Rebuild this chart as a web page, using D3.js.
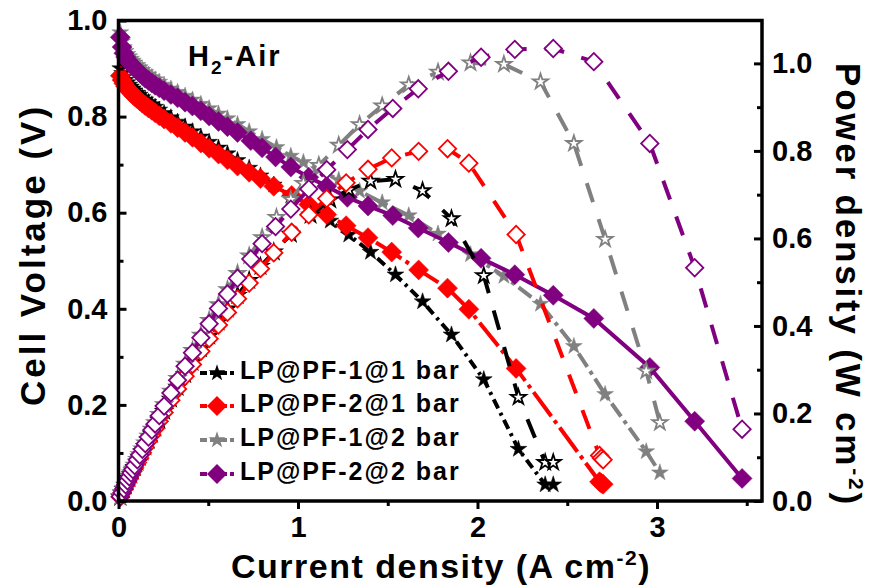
<!DOCTYPE html>
<html>
<head>
<meta charset="utf-8">
<script src="https://cdn.jsdelivr.net/npm/d3@7"></script>
<style>
  body { margin: 0; background: #fff; }
  text { font-family: "Liberation Sans", Arial, sans-serif; font-weight: bold; }
</style>
</head>
<body>
<script>
// ---- data ----
// low current points (same steps for all four cells)
var lowCurrent = [0.01,0.02,0.03,0.04,0.05,0.06,0.07,0.08,0.09,0.105,0.118,0.133,0.149,0.167,0.186,0.204,0.227,0.254,0.292,0.329,0.371,0.412,0.459,0.505,0.557,0.607,0.663];

// LP@PF-1@1 bar
var current_pf1_1 = lowCurrent.concat([0.728,0.791,0.865,0.960,1.070,1.180,1.283,1.404,1.543,1.694,1.855,2.035,2.228,2.377,2.422]);
var voltage_pf1_1 = [0.900,0.890,0.882,0.876,0.871,0.866,0.862,0.858,0.854,0.849,0.845,0.840,0.835,0.830,0.825,0.820,0.814,0.807,0.798,0.789,0.779,0.769,0.758,0.747,0.735,0.723,0.709,
  0.693,0.677,0.658,0.635,0.610,0.583,0.554,0.518,0.471,0.415,0.346,0.253,0.108,0.034,0.034];
var power_pf1_1 = [0.009,0.018,0.026,0.035,0.044,0.052,0.060,0.069,0.077,0.089,0.100,0.112,0.124,0.139,0.153,0.167,0.185,0.205,0.233,0.260,0.289,0.317,0.348,0.377,0.409,0.439,0.470,
  0.504,0.536,0.569,0.610,0.653,0.688,0.711,0.731,0.735,0.709,0.645,0.515,0.237,0.088,0.088];

// LP@PF-2@1 bar
var current_pf2_1 = lowCurrent.concat([0.728,0.791,0.865,0.965,1.060,1.160,1.268,1.390,1.522,1.672,1.833,1.952,2.215,2.680,2.690,2.700]);
var voltage_pf2_1 = [0.885,0.876,0.869,0.863,0.858,0.854,0.850,0.846,0.842,0.837,0.833,0.828,0.823,0.818,0.813,0.808,0.802,0.795,0.786,0.777,0.767,0.757,0.745,0.734,0.722,0.710,0.697,
  0.684,0.671,0.655,0.636,0.617,0.596,0.573,0.548,0.518,0.481,0.443,0.399,0.276,0.040,0.037,0.035];
var power_pf2_1 = [0.009,0.018,0.026,0.035,0.043,0.051,0.060,0.068,0.076,0.088,0.098,0.110,0.123,0.137,0.151,0.165,0.182,0.202,0.230,0.256,0.285,0.312,0.342,0.371,0.402,0.431,0.462,
  0.498,0.531,0.567,0.614,0.654,0.691,0.727,0.758,0.784,0.799,0.805,0.772,0.609,0.104,0.098,0.094];

// LP@PF-1@2 bar
var current_pf1_2 = lowCurrent.concat([0.728,0.800,0.880,0.960,1.030,1.116,1.227,1.343,1.469,1.617,1.780,1.961,2.147,2.351,2.537,2.711,2.940,3.016]);
var voltage_pf1_2 = [0.975,0.956,0.944,0.936,0.930,0.925,0.920,0.916,0.912,0.907,0.902,0.897,0.892,0.887,0.882,0.877,0.872,0.866,0.858,0.851,0.843,0.835,0.826,0.817,0.806,0.796,0.784,
  0.769,0.753,0.736,0.718,0.705,0.690,0.668,0.645,0.621,0.594,0.556,0.513,0.468,0.410,0.322,0.222,0.103,0.059];
var power_pf1_2 = [0.010,0.019,0.028,0.037,0.047,0.056,0.064,0.073,0.082,0.095,0.106,0.119,0.133,0.148,0.164,0.179,0.198,0.220,0.251,0.280,0.313,0.344,0.379,0.413,0.449,0.483,0.520,
  0.560,0.602,0.648,0.689,0.726,0.767,0.813,0.860,0.903,0.951,0.980,1.001,0.998,0.958,0.817,0.598,0.297,0.179];

// LP@PF-2@2 bar
var current_pf2_2 = lowCurrent.concat([0.737,0.800,0.875,0.960,1.060,1.160,1.275,1.390,1.528,1.670,1.838,2.020,2.208,2.422,2.648,2.960,3.210,3.474]);
var voltage_pf2_2 = [0.965,0.945,0.932,0.924,0.918,0.913,0.909,0.905,0.901,0.896,0.891,0.886,0.880,0.875,0.870,0.865,0.860,0.854,0.846,0.839,0.830,0.822,0.812,0.801,0.790,0.779,0.767,
  0.750,0.735,0.716,0.695,0.674,0.655,0.632,0.614,0.594,0.568,0.538,0.505,0.471,0.428,0.380,0.278,0.166,0.047];
var power_pf2_2 = [0.010,0.019,0.028,0.037,0.046,0.055,0.064,0.072,0.081,0.094,0.105,0.118,0.131,0.146,0.162,0.176,0.195,0.217,0.247,0.276,0.308,0.339,0.373,0.405,0.440,0.473,0.509,
  0.553,0.588,0.627,0.667,0.713,0.757,0.803,0.849,0.897,0.942,0.982,1.014,1.032,1.034,1.004,0.817,0.533,0.164];

var legendNames = ["LP@PF-1@1 bar", "LP@PF-2@1 bar", "LP@PF-1@2 bar", "LP@PF-2@2 bar"];
var xTicks = [0, 1, 2, 3];
var vTicks = [0, 0.2, 0.4, 0.6, 0.8, 1.0];
var pTicks = [0, 0.2, 0.4, 0.6, 0.8, 1.0];

var svg = d3.select("body")
  .append("svg")
  .attr("width", 875)
  .attr("height", 587);

var x = d3.scaleLinear().domain([0, 3.585]).range([118.5, 762]);
var yV = d3.scaleLinear().domain([0, 1.0]).range([501, 20.5]);
var yP = d3.scaleLinear().domain([0, 1.098]).range([501, 20.5]);

// series styles
var series = [
  { cur: current_pf1_1, v: voltage_pf1_1, p: power_pf1_1, color: "#000000", shape: "star", vDash: "10,5,3,5" },
  { cur: current_pf2_1, v: voltage_pf2_1, p: power_pf2_1, color: "#ff0000", shape: "diamond", vDash: "30,5,4,5" },
  { cur: current_pf1_2, v: voltage_pf1_2, p: power_pf1_2, color: "#808080", shape: "star", vDash: "16,5,4,5" },
  { cur: current_pf2_2, v: voltage_pf2_2, p: power_pf2_2, color: "#800080", shape: "diamond", vDash: null }
];

function markerPath(shape, filled) {
  if (shape == "star") return d3.symbol(d3.symbolStar, filled ? 88 : 72)();
  return d3.symbol(d3.symbolSquare, filled ? 200 : 150)();
}

function drawCurve(s, vals, yScale, filled, dash) {
  var g = svg.append("g");
  var line = d3.line()
    .x(function (d, i) { return x(s.cur[i]); })
    .y(function (d) { return yScale(d); });
  g.append("path")
    .datum(vals)
    .attr("d", line)
    .attr("fill", "none")
    .attr("stroke", s.color)
    .attr("stroke-width", 4)
    .attr("stroke-dasharray", dash);
  g.selectAll("path.mk")
    .data(vals)
    .enter()
    .append("path")
    .attr("class", "mk")
    .attr("d", markerPath(s.shape, filled))
    .attr("transform", function (d, i) {
      return "translate(" + x(s.cur[i]) + "," + yScale(d) + ")" + (s.shape == "diamond" ? " rotate(45)" : "");
    })
    .attr("fill", filled ? s.color : "#ffffff")
    .attr("stroke", s.color)
    .attr("stroke-width", filled ? 0.5 : 1.8);
}

// voltage curves first, then power curves
series.forEach(function (s) { drawCurve(s, s.v, yV, true, s.vDash); });
series.forEach(function (s) { drawCurve(s, s.p, yP, false, "20,18"); });

// axes
svg.append("g").attr("transform", "translate(0,501)")
  .call(d3.axisBottom(x).tickValues(xTicks).tickFormat(d3.format("d")).tickSize(8).tickPadding(7));
svg.append("g").attr("transform", "translate(0,501)")
  .call(d3.axisBottom(x).tickValues([0.5, 1.5, 2.5, 3.5]).tickFormat("").tickSize(5));

svg.append("g").attr("transform", "translate(118.5,0)")
  .call(d3.axisLeft(yV).tickValues(vTicks).tickFormat(d3.format(".1f")).tickSize(-8).tickPadding(11));
svg.append("g").attr("transform", "translate(118.5,0)")
  .call(d3.axisLeft(yV).tickValues([0.1, 0.3, 0.5, 0.7, 0.9]).tickFormat("").tickSize(-5));

svg.append("g").attr("transform", "translate(762,0)")
  .call(d3.axisRight(yP).tickValues(pTicks).tickFormat(d3.format(".1f")).tickSize(-8).tickPadding(10));
svg.append("g").attr("transform", "translate(762,0)")
  .call(d3.axisRight(yP).tickValues([0.1, 0.3, 0.5, 0.7, 0.9]).tickFormat("").tickSize(-5));

svg.selectAll(".domain").remove();
svg.selectAll(".tick line").attr("stroke", "#000").attr("stroke-width", 3);
svg.selectAll(".tick text").attr("fill", "#000").style("font-size", "29px");

// frame
svg.append("rect")
  .attr("x", 118.5).attr("y", 20.5)
  .attr("width", 762 - 118.5).attr("height", 501 - 20.5)
  .attr("fill", "none").attr("stroke", "#000").attr("stroke-width", 3.5);

// axis titles
var xt = svg.append("text").attr("x", 441).attr("y", 578).attr("text-anchor", "middle")
  .style("font-size", "34px").style("letter-spacing", "1.5px");
xt.append("tspan").text("Current density (A cm");
xt.append("tspan").attr("dy", -13).style("font-size", "21px").text("-2");
xt.append("tspan").attr("dy", 13).text(")");

svg.append("text")
  .attr("transform", "translate(45,255) rotate(-90)")
  .attr("text-anchor", "middle")
  .style("font-size", "35px").style("letter-spacing", "3px")
  .text("Cell Voltage (V)");

var rt = svg.append("text")
  .attr("transform", "translate(836,285) rotate(90)")
  .attr("text-anchor", "middle")
  .style("font-size", "35px").style("letter-spacing", "2.8px");
rt.append("tspan").text("Power density (W cm");
rt.append("tspan").attr("dy", -13).style("font-size", "21px").text("-2");
rt.append("tspan").attr("dy", 13).text(")");

// H2-Air label
var h = svg.append("text").attr("x", 188).attr("y", 66).style("font-size", "29px").style("letter-spacing", "2px");
h.append("tspan").text("H");
h.append("tspan").attr("dy", 8).style("font-size", "19px").text("2");
h.append("tspan").attr("dy", -8).text("-Air");

// legend
var rowY = [373, 406, 440, 474];
series.forEach(function (s, i) {
  var g = svg.append("g");
  g.append("line")
    .attr("x1", 200).attr("x2", 234)
    .attr("y1", rowY[i]).attr("y2", rowY[i])
    .attr("stroke", s.color).attr("stroke-width", 4)
    .attr("stroke-dasharray", "7,3");
  g.append("path")
    .attr("d", markerPath(s.shape, true))
    .attr("transform", "translate(217," + rowY[i] + ")" + (s.shape == "diamond" ? " rotate(45)" : ""))
    .attr("fill", s.color);
  g.append("text")
    .attr("x", 240).attr("y", rowY[i] + 6)
    .style("font-size", "25px").style("letter-spacing", "2px")
    .text(legendNames[i]);
});
</script>
</body>
</html>
